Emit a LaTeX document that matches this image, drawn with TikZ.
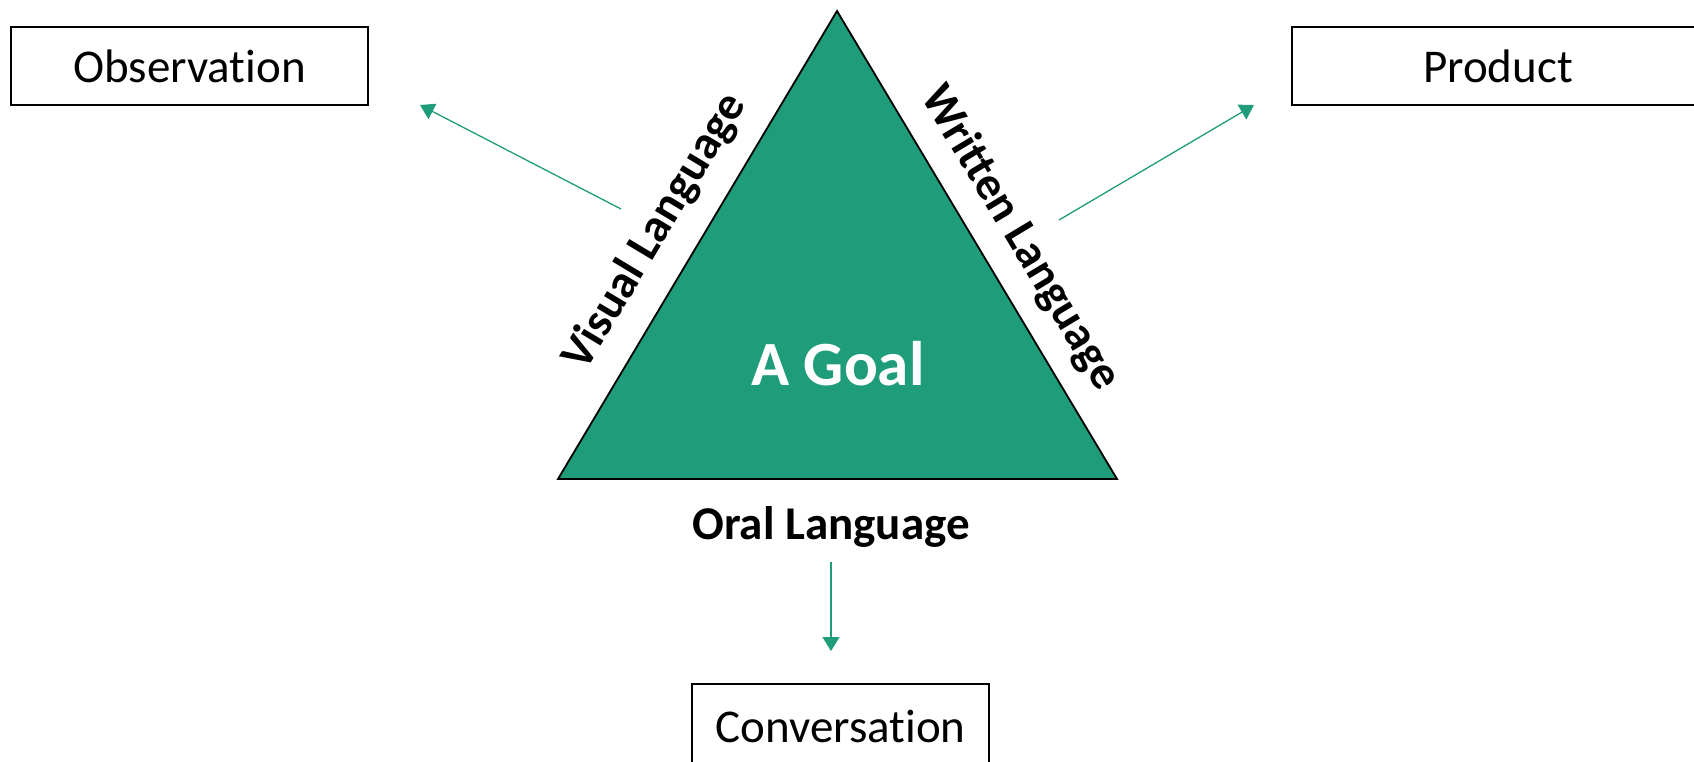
\documentclass[tikz,border=0pt]{standalone}
\usepackage{fontspec}
\setmainfont{Carlito}[Ligatures={NoCommon}]
\usetikzlibrary{arrows.meta}
\definecolor{goalgreen}{RGB}{31,156,122}
\tikzset{
  box/.style={draw=black,line width=1.8pt,fill=white,inner sep=0pt,font=\fontsize{47}{54}\selectfont},
  lbl/.style={font=\bfseries\fontsize{47}{54}\selectfont,inner sep=0pt},
  conn/.style={draw=goalgreen,line width=1.3pt,-{Triangle[width=17pt,length=14pt]}}
}
\begin{document}
\begin{tikzpicture}[x=1pt,y=-1pt]
\useasboundingbox (0,0) rectangle (1694,761);
\clip (0,0) rectangle (1694,761);
% triangle
\coordinate (apex) at (837,11);
\coordinate (bl) at (558,479);
\coordinate (br) at (1117,479);
\draw[fill=goalgreen,line width=1.8pt,line join=miter] (apex) -- (bl) -- (br) -- cycle;
\node[font=\bfseries\fontsize{63}{70}\selectfont,text=white] (goal) at (838,364) {A Goal};
% boxes
\node[box,minimum width=357pt,minimum height=78pt] (obs) at (189.5,66) {Observation};
\node[box,minimum width=412pt,minimum height=78pt] (prod) at (1498,66) {Product};
\node[box,minimum width=297pt,minimum height=84pt] (conv) at (840.5,726) {Conversation};
% side labels
\node[lbl,rotate=59] (vis) at (655,232) {Visual Language};
\node[lbl,rotate=-59] (wri) at (1020,238) {Written Language};
\node[lbl] (oral) at (831,527) {Oral Language};
% connectors
\coordinate (vs) at (621,209);
\coordinate (ve) at (420,105);
\coordinate (ws) at (1059,220);
\coordinate (we) at (1254,105);
\coordinate (os) at (831,562);
\coordinate (oe) at (831,651);
\draw[conn] (vs) -- (ve);
\draw[conn] (ws) -- (we);
\draw[conn] (os) -- (oe);
\end{tikzpicture}
\end{document}
